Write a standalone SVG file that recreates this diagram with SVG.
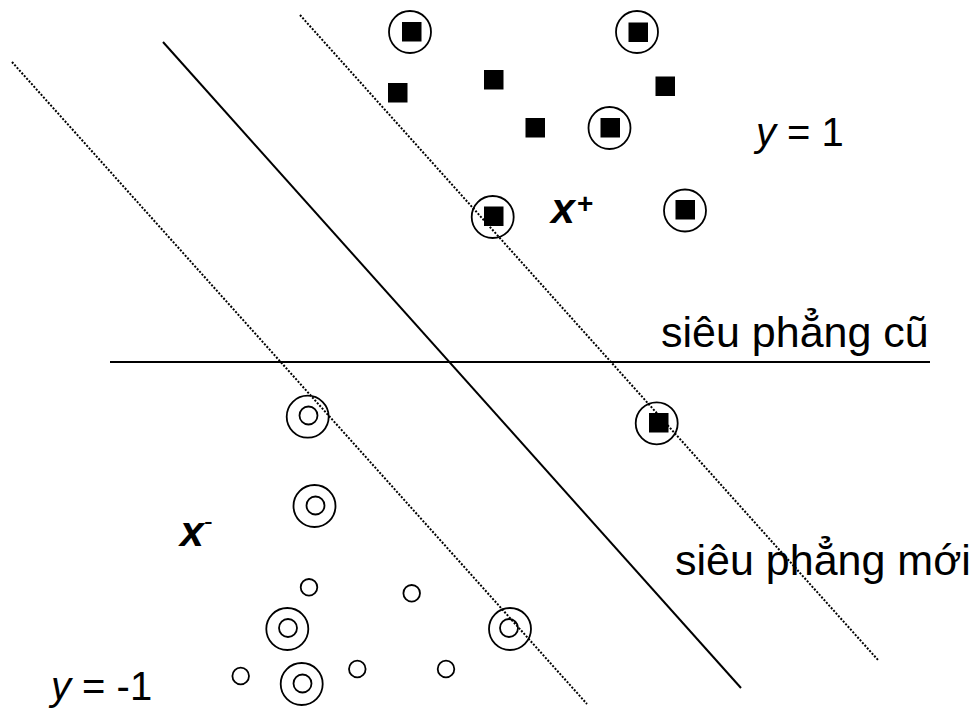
<svg xmlns="http://www.w3.org/2000/svg" width="976" height="709" viewBox="0 0 976 709">
<style>
.sq{fill:#000}
.ring{fill:none;stroke:#000;stroke-width:1.8}
.solid{stroke:#000;stroke-width:2;fill:none}
.dot{stroke:#000;stroke-width:2;stroke-dasharray:2 1.6;fill:none}
.t{font-family:"Liberation Sans",Arial,sans-serif;fill:#000}
.lbl{font-family:"Liberation Sans",Arial,sans-serif;font-weight:bold;font-style:italic;fill:#000}
</style>
<rect width="976" height="709" fill="#fff"/>
<g id="connectors">
<line class="solid" x1="110" y1="362" x2="930" y2="362"/>
<line class="solid" x1="163" y1="42" x2="741" y2="688"/>
<line class="dot" x1="12" y1="62" x2="587" y2="704"/>
<line class="dot" x1="300" y1="15" x2="878" y2="660"/>
</g>
<g id="pos-sv1"><circle class="ring" cx="410" cy="32" r="21"/><rect class="sq" x="402" y="22" width="19.5" height="19.5"/></g>
<g id="pos-sv2"><circle class="ring" cx="637" cy="32" r="21"/><rect class="sq" x="628.5" y="22.5" width="19.5" height="19.5"/></g>
<g id="pos1"><rect class="sq" x="388" y="83" width="19.5" height="19.5"/></g>
<g id="pos2"><rect class="sq" x="484" y="70" width="19.5" height="19.5"/></g>
<g id="pos3"><rect class="sq" x="655.5" y="76.5" width="19.5" height="19.5"/></g>
<g id="pos4"><rect class="sq" x="525.5" y="118" width="19.5" height="19.5"/></g>
<g id="pos-sv3"><circle class="ring" cx="609.5" cy="128" r="21"/><rect class="sq" x="600.5" y="118" width="19.5" height="19.5"/></g>
<g id="pos-sv4"><circle class="ring" cx="492.7" cy="217" r="21"/><rect class="sq" x="484" y="206.5" width="19.5" height="19.5"/></g>
<g id="pos-sv5"><circle class="ring" cx="685" cy="210.5" r="21"/><rect class="sq" x="675.5" y="200" width="19.5" height="19.5"/></g>
<g id="pos-sv6"><circle class="ring" cx="656.7" cy="423.3" r="21"/><rect class="sq" x="649" y="413" width="19.5" height="19.5"/></g>
<g id="neg-sv1"><circle class="ring" cx="307.7" cy="416.7" r="21"/><circle class="ring" cx="308.5" cy="415.5" r="9"/></g>
<g id="neg-sv2"><circle class="ring" cx="314.5" cy="506" r="21"/><circle class="ring" cx="315.5" cy="505.5" r="9"/></g>
<g id="neg-sv3"><circle class="ring" cx="287.3" cy="629" r="21"/><circle class="ring" cx="288" cy="628" r="9"/></g>
<g id="neg-sv4"><circle class="ring" cx="510" cy="629" r="21"/><circle class="ring" cx="509" cy="628" r="9"/></g>
<g id="neg-sv5"><circle class="ring" cx="301.7" cy="684" r="21"/><circle class="ring" cx="302.5" cy="683.5" r="9"/></g>
<g id="neg1"><circle class="ring" cx="309" cy="587.3" r="8.3"/></g>
<g id="neg2"><circle class="ring" cx="411.7" cy="593.3" r="8.3"/></g>
<g id="neg3"><circle class="ring" cx="240.7" cy="676" r="8.3"/></g>
<g id="neg4"><circle class="ring" cx="357.3" cy="669" r="8.3"/></g>
<g id="neg5"><circle class="ring" cx="446" cy="669" r="8.3"/></g>
<g id="labels">
<text class="t" x="756" y="146" font-size="40"><tspan font-style="italic">y</tspan> = 1</text>
<text class="t" x="51" y="700" font-size="40"><tspan font-style="italic">y</tspan> = -1</text>
<text class="t" x="661" y="347" font-size="43">siêu phẳng cũ</text>
<text class="t" x="675" y="575" font-size="43">siêu phẳng mới</text>
<text class="lbl" x="551" y="223" font-size="43">x</text>
<text class="t" x="577" y="213" font-size="28" font-weight="bold">+</text>
<text class="lbl" x="180" y="546" font-size="43">x</text>
<text class="t" x="204" y="530" font-size="26">-</text>
</g>
</svg>
